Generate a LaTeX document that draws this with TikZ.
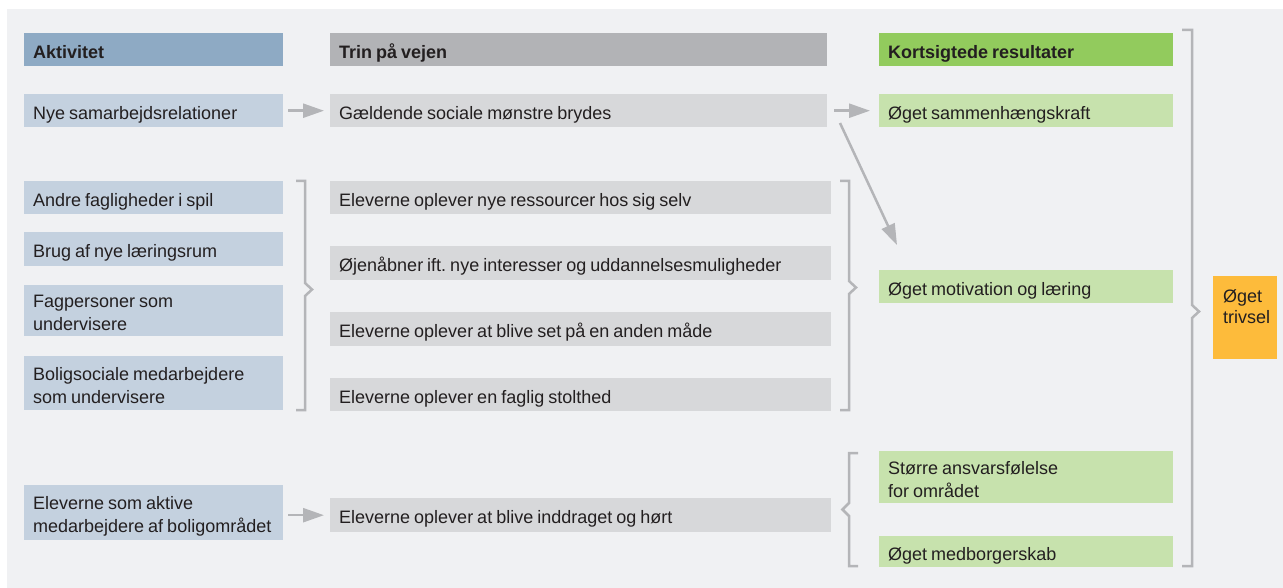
\documentclass[tikz,border=0pt]{standalone}
\usepackage{fontspec}
\setmainfont{Liberation Sans}
\usetikzlibrary{arrows.meta}
\hyphenpenalty=10000
\exhyphenpenalty=10000
\frenchspacing
\hbadness=10000
\hfuzz=50pt
\definecolor{panel}{HTML}{F0F1F3}
\definecolor{hdrA}{HTML}{8EAAC4}
\definecolor{boxA}{HTML}{C4D1DF}
\definecolor{hdrB}{HTML}{B2B3B6}
\definecolor{boxB}{HTML}{D7D8DA}
\definecolor{hdrC}{HTML}{92CB5D}
\definecolor{boxC}{HTML}{C7E2AD}
\definecolor{orng}{HTML}{FDBB3B}
\definecolor{lgray}{HTML}{B4B5B8}
\definecolor{txt}{HTML}{231F20}
\newcommand{\fsz}{\fontsize{18pt}{23pt}\selectfont}
\tikzset{
  cell/.style n args={3}{anchor=north west, inner xsep=9pt, inner ysep=0pt,
    text width=#1pt-18pt, minimum height=#2pt, fill=#3, text=txt, align=left,
    font=\fsz,
    execute at begin node={\spaceskip=4pt plus 2pt minus 0.5pt\xspaceskip=4pt plus 2pt\relax\rule{0pt}{22pt}},
    execute at end node={\rule[-5pt]{0pt}{5pt}}},
  hdr/.style={font=\fsz\bfseries},
  arr/.style={draw=lgray, line width=2.5pt, -{Triangle[length=21pt,width=14pt]}},
  brk/.style={draw=lgray, line width=2.5pt},
}
\begin{document}
\begin{tikzpicture}[x=1pt,y=-1pt]
\useasboundingbox (0,0) rectangle (1283,588);
\fill[white] (0,0) rectangle (1283,588);
\fill[panel] (7,9) rectangle (1283,588);
% headers
\node[cell={259}{33}{hdrA}, hdr] (h1) at (24,33) {Aktivitet};
\node[cell={497}{33}{hdrB}, hdr] (h2) at (330,33) {Trin på vejen};
\node[cell={294}{33}{hdrC}, hdr] (h3) at (879,33) {Kortsigtede resultater};
% column 1
\node[cell={259}{33}{boxA}] (a1) at (24,94) {Nye samarbejdsrelationer};
\node[cell={259}{33}{boxA}] (a2) at (24,181) {Andre fagligheder i spil};
\node[cell={259}{34}{boxA}] (a3) at (24,232) {Brug af nye læringsrum};
\node[cell={259}{51}{boxA}] (a4) at (24,285) {Fagpersoner som\\undervisere};
\node[cell={259}{54}{boxA}] (a5) at (24,356) {Boligsociale medarbejdere\\som undervisere};
\node[cell={259}{55}{boxA}] (a6) at (24,485) {Eleverne som aktive\\\mbox{medarbejdere af boligområdet}};
% column 2
\node[cell={497}{33}{boxB}] (b1) at (330,94) {Gældende sociale mønstre brydes};
\node[cell={501}{33}{boxB}] (b2) at (330,181) {Eleverne oplever nye ressourcer hos sig selv};
\node[cell={501}{34}{boxB}] (b3) at (330,246) {Øjenåbner ift. nye interesser og uddannelsesmuligheder};
\node[cell={501}{34}{boxB}] (b4) at (330,312) {Eleverne oplever at blive set på en anden måde};
\node[cell={501}{33}{boxB}] (b5) at (330,378) {Eleverne oplever en faglig stolthed};
\node[cell={501}{34}{boxB}] (b6) at (330,498) {Eleverne oplever at blive inddraget og hørt};
% column 3
\node[cell={294}{33}{boxC}] (c1) at (879,94) {Øget sammenhængskraft};
\node[cell={294}{33}{boxC}] (c2) at (879,270) {Øget motivation og læring};
\node[cell={294}{52}{boxC}] (c3) at (879,451) {Større ansvarsfølelse\\for området};
\node[cell={294}{31}{boxC}] (c4) at (879,536) {Øget medborgerskab};
% trivsel
\node[anchor=north west, inner xsep=10pt, inner ysep=0pt, text width=44pt,
  fill=orng, text=txt, align=left, font=\fontsize{18pt}{21pt}\selectfont,
  execute at begin node={\rule{0pt}{26pt}},
  execute at end node={\rule[-36pt]{0pt}{36pt}}] (t) at (1213,276) {Øget\\trivsel};
% arrows
\draw[arr, shorten <=5pt, shorten >=6pt] (a1) -- (b1);
\draw[arr, shorten <=7pt, shorten >=9pt] (b1) -- (c1);
\draw[arr, shorten <=5pt, shorten >=6pt] (a6.east |- b6.west) -- (b6.west);
\coordinate (d1) at (840,123);
\coordinate (d2) at (897,245);
\draw[arr] (d1) -- (d2);
% brackets
\draw[brk] (296,181) -- (305,181) -- (305,283) -- (312,289.5) -- (305,296) -- (305,410) -- (296,410);
\draw[brk] (840,181) -- (849,181) -- (849,281) -- (856,287.5) -- (849,294) -- (849,410) -- (840,410);
\draw[brk] (858,453) -- (849,453) -- (849,503) -- (842.5,509.5) -- (849,516) -- (849,566) -- (858,566);
\draw[brk] (1182,30) -- (1192,30) -- (1192,305) -- (1199,311.5) -- (1192,318) -- (1192,566) -- (1182,566);
\end{tikzpicture}
\end{document}
